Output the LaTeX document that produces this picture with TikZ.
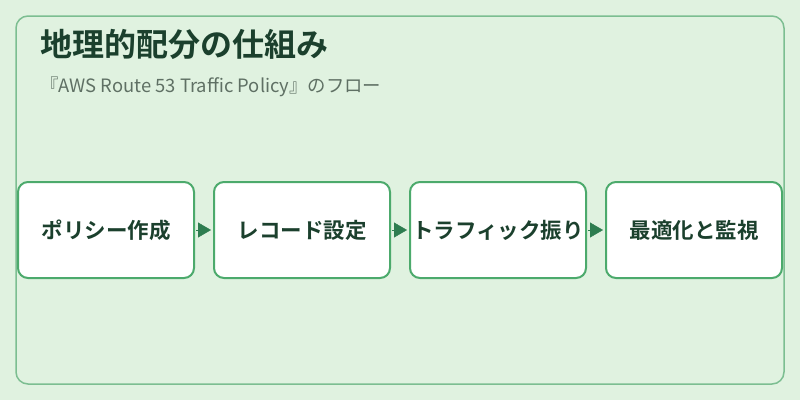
\documentclass[tikz,border=0pt]{standalone}
\usepackage{fontspec}
\setmainfont{Noto Sans CJK JP}
\newfontfamily\cjkbold{Noto Sans CJK JP Bold}
\definecolor{bgmint}{RGB}{224,242,224}
\definecolor{framegreen}{RGB}{124,190,145}
\definecolor{boxgreen}{RGB}{76,170,108}
\definecolor{arrowgreen}{RGB}{46,125,80}
\definecolor{titledark}{RGB}{27,64,45}
\definecolor{subgray}{RGB}{95,112,100}
\usetikzlibrary{positioning}
\usetikzlibrary{arrows.meta}

\begin{document}
\begin{tikzpicture}[x=1pt, y=-1pt]

  \fill[bgmint] (0,0) rectangle (800,400);
  \useasboundingbox (0,0) rectangle (800,400);
  \draw[framegreen, line width=1.5pt, rounded corners=12pt] (16,16) rectangle (784,384);

  \node[anchor=base west, inner sep=0pt, text=titledark, font=\cjkbold\fontsize{32}{36}\selectfont] (title) at (40,56) {地理的配分の仕組み};
  \node[anchor=base west, inner sep=0pt, text=subgray, font=\fontsize{18.4}{22}\selectfont] (subtitle) at (40,92) {『AWS Route 53 Traffic Policy』のフロー};

  \begin{scope}[every node/.style={draw=boxgreen, line width=2pt, fill=white, rounded corners=10pt, minimum width=176pt, minimum height=96pt, inner sep=0pt, text=titledark, font=\cjkbold\fontsize{21.5}{24}\selectfont}, node distance=18pt]
    \node (policy) at (106,230) {ポリシー作成};
    \node [right=of policy] (record) {レコード設定};
    \node [right=of record] (traffic) {トラフィック振り};
    \node [right=of traffic] (optimize) {最適化と監視};
  \end{scope}

  \begin{scope}[every path/.style={draw=arrowgreen, line width=0.4pt, -{Triangle[length=13pt, width=15pt, fill=arrowgreen]}, shorten <=1pt, shorten >=2pt}]
    \draw (policy) -- (record);
    \draw (record) -- (traffic);
    \draw (traffic) -- (optimize);
  \end{scope}

\end{tikzpicture}
\end{document}
